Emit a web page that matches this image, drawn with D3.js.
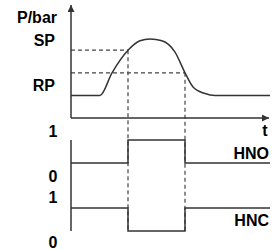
<!DOCTYPE html>
<html>
<head>
<meta charset="utf-8">
<script src="https://cdn.jsdelivr.net/npm/d3@7"></script>
<style>
  body { margin: 0; background: #fff; }
  text { font-family: "Liberation Sans", Arial, sans-serif; font-weight: bold; fill: #000; }
</style>
</head>
<body>
<div id="chart"></div>
<script>
// pressure curve (time, bar)
const times = [0, 1.45, 2.05, 2.85, 3.45, 3.95, 4.55, 5.2, 5.7, 6.1, 6.7, 7.2, 9.95]
const pressure = [1.2, 1.2, 2.4, 3.6, 4.1, 4.2, 4.1, 3.5, 2.4, 1.65, 1.3, 1.2, 1.2]
const SP = 3.6
const RP = 2.4
const tOn = 2.85
const tOff = 5.7
const tEnd = 9.95

// switch outputs
const switchTimes = [0, tOn, tOff, tEnd]
const hno = [0, 1, 0, 0]
const hnc = [1, 0, 1, 1]
const levelLabels = ["1", "0"]

const width = 279
const height = 250

const svg = d3.select("#chart").append("svg").attr("width", width).attr("height", height)

const defs = svg.append("defs")
defs.append("marker").attr("id", "arrow")
    .attr("viewBox", "0 0 10 10").attr("refX", 10).attr("refY", 5)
    .attr("markerWidth", 10).attr("markerHeight", 7).attr("markerUnits", "userSpaceOnUse")
    .attr("orient", "auto")
    .append("path").attr("d", "M0,0 L10,5 L0,10 Z").attr("fill", "#333")

const x = d3.scaleLinear().domain([0, 10]).range([71, 271])
const y = d3.scaleLinear().domain([0, 6]).range([118, 5])
const yHno = d3.scaleLinear().domain([0, 1]).range([163, 140])
const yHnc = d3.scaleLinear().domain([0, 1]).range([231, 208])

const ink = "#333"

// dashed guides
const dash = svg.append("g").attr("stroke", "#444").attr("stroke-width", 1.2).attr("stroke-dasharray", "4,3").attr("fill", "none")
dash.append("line").attr("x1", x(0)).attr("x2", x(tOn)).attr("y1", y(SP)).attr("y2", y(SP))
dash.append("line").attr("x1", x(0)).attr("x2", x(tOff)).attr("y1", y(RP)).attr("y2", y(RP))
dash.append("line").attr("x1", x(tOn)).attr("x2", x(tOn)).attr("y1", y(SP)).attr("y2", yHnc(0))
dash.append("line").attr("x1", x(tOff)).attr("x2", x(tOff)).attr("y1", y(RP)).attr("y2", yHnc(0))

// axes
const axes = svg.append("g").attr("stroke", ink).attr("stroke-width", 1.5)
axes.append("line").attr("x1", x(0)).attr("x2", x(0)).attr("y1", y(0)).attr("y2", y(6)).attr("marker-end", "url(#arrow)")
axes.append("line").attr("x1", x(0)).attr("x2", x(9.9)).attr("y1", y(0)).attr("y2", y(0)).attr("marker-end", "url(#arrow)")
axes.append("line").attr("x1", x(0)).attr("x2", x(0)).attr("y1", yHno(1)).attr("y2", yHnc(0))

// pressure curve
const pts = times.map((t, i) => [t, pressure[i]])
svg.append("path").datum(pts)
    .attr("fill", "none").attr("stroke", ink).attr("stroke-width", 1.5)
    .attr("d", d3.line().x(d => x(d[0])).y(d => y(d[1])).curve(d3.curveMonotoneX))

// switch outputs
const step = (vals, ys) => d3.line().x(d => x(d[0])).y(d => ys(d[1])).curve(d3.curveStepAfter)(switchTimes.map((t, i) => [t, vals[i]]))
svg.append("path").attr("d", step(hno, yHno)).attr("fill", "none").attr("stroke", ink).attr("stroke-width", 1.5)
svg.append("path").attr("d", step(hnc, yHnc)).attr("fill", "none").attr("stroke", ink).attr("stroke-width", 1.5)

// labels
const fs = "16px"
svg.append("text").attr("x", 57).attr("y", 23).attr("text-anchor", "end").style("font-size", fs).text("P/bar")
svg.append("text").attr("x", 55).attr("y", 46).attr("text-anchor", "end").style("font-size", fs).text("SP")
svg.append("text").attr("x", 55).attr("y", 91).attr("text-anchor", "end").style("font-size", fs).text("RP")
svg.append("text").attr("x", 265).attr("y", 136).attr("text-anchor", "middle").style("font-size", fs).text("t")
svg.append("text").attr("x", 269).attr("y", 159).attr("text-anchor", "end").style("font-size", fs).text("HNO")
svg.append("text").attr("x", 269).attr("y", 226).attr("text-anchor", "end").style("font-size", fs).text("HNC")

const levelY = [137, 182, 203, 248]
levelY.forEach((ly, i) => {
    svg.append("text").attr("x", 53).attr("y", ly).attr("text-anchor", "middle").style("font-size", fs).text(levelLabels[i % 2])
})
</script>
</body>
</html>
